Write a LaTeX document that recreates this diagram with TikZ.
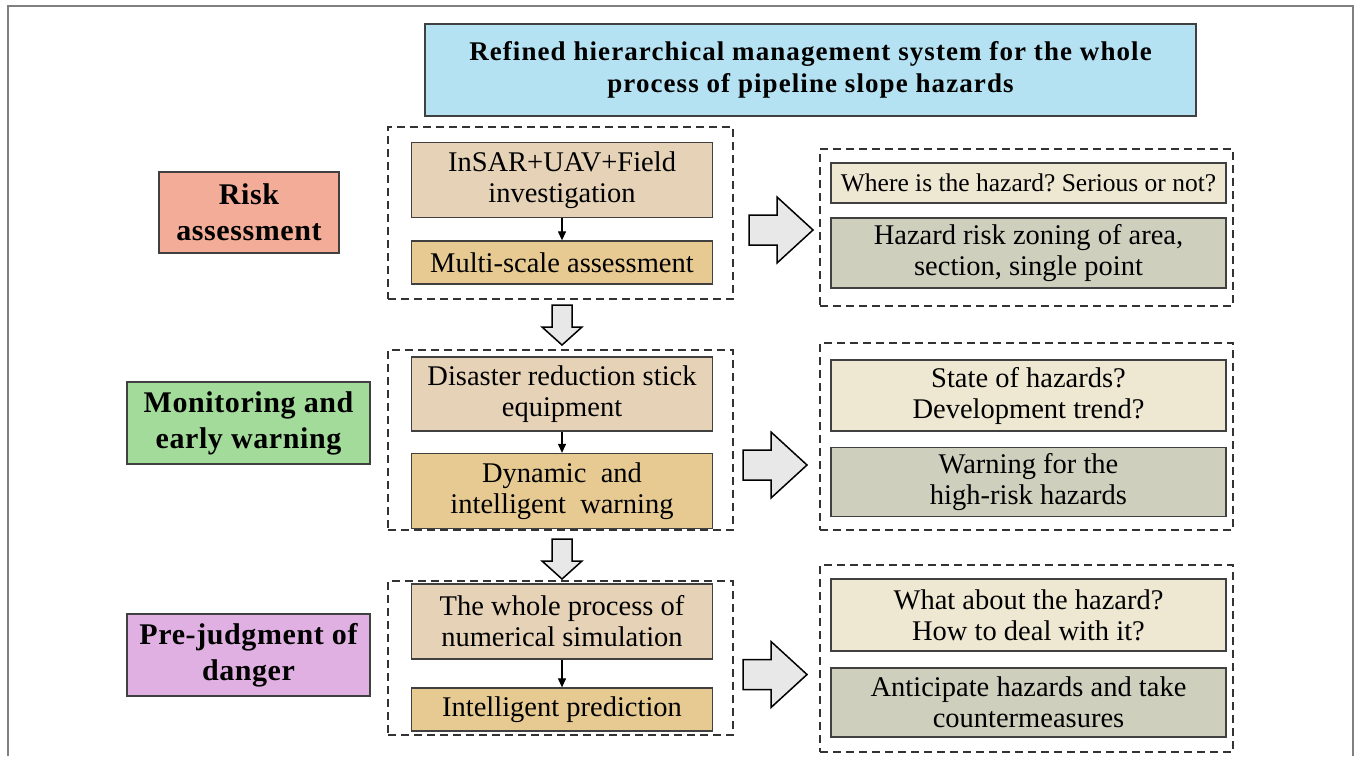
\documentclass[tikz,border=0pt]{standalone}
\usepackage{fontspec}
\setmainfont{Liberation Serif}
\newfontfamily\titlefont{Liberation Serif}[LetterSpace=4]
\newfontfamily\stagefont{Liberation Serif}[LetterSpace=2]
\usepackage{tikz}
\usetikzlibrary{positioning}
\usetikzlibrary{arrows.meta}
\frenchspacing
\definecolor{titleblue}{HTML}{B5E2F2}
\definecolor{riskred}{HTML}{F2AC97}
\definecolor{monigreen}{HTML}{A3DB9A}
\definecolor{judgeviolet}{HTML}{E1B0E2}
\definecolor{stepbeige}{HTML}{E6D3B7}
\definecolor{steptan}{HTML}{E6CA92}
\definecolor{askcream}{HTML}{EEE8D3}
\definecolor{resgray}{HTML}{CFCFBE}
\definecolor{edgegray}{HTML}{404040}
\definecolor{arrowfill}{HTML}{E8E8E8}
\tikzstyle{ttl} = [rectangle, draw=edgegray, line width=1.5pt, fill=titleblue, align=center, font=\titlefont\bfseries\fontsize{27}{32}\selectfont]
\tikzstyle{stage} = [rectangle, draw=edgegray, line width=1.5pt, align=center, minimum width=243pt, minimum height=82pt, font=\stagefont\bfseries\fontsize{30}{36}\selectfont]
\tikzstyle{grp} = [rectangle, draw=black!80, line width=1.6pt, dash pattern=on 8pt off 5pt]
\tikzstyle{mid} = [rectangle, draw=edgegray, line width=1.3pt, align=center, minimum width=301pt, inner sep=0pt, font=\fontsize{28.5}{31}\selectfont]
\tikzstyle{ans} = [rectangle, draw=edgegray, line width=1.3pt, align=center, minimum width=395pt, inner sep=0pt, font=\fontsize{28.5}{31}\selectfont]
\tikzstyle{link} = [line width=1.2pt, -{Triangle[length=9pt,width=8pt]}]
\tikzset{
  rblock/.pic={\draw[fill=arrowfill, line width=1.5pt] (0,-15) -- (28,-15) -- (28,-33) -- (64,0) -- (28,33) -- (28,15) -- (0,15) -- cycle;},
  dblock/.pic={\draw[fill=arrowfill, line width=1.5pt] (-10,0) -- (10,0) -- (10,22) -- (20,22) -- (0,40) -- (-20,22) -- (-10,22) -- cycle;}
}
\begin{document}
\begin{tikzpicture}[x=1pt,y=-1pt]
    \useasboundingbox (0,0) rectangle (1356,756);
    \draw[gray, line width=1.2pt] (8,756) -- (8,6) -- (1353,6) -- (1353,756);
    \node (title) [ttl, minimum width=771pt, minimum height=92pt] at (810.5,70) {Refined hierarchical management system for the whole\\process of pipeline slope hazards};
    \node (risk) [stage, fill=riskred, minimum width=180pt, minimum height=81pt] at (249,212.5) {Risk\\assessment};
    \node (monitor) [stage, fill=monigreen] at (248.5,423) {Monitoring and\\early warning};
    \node (judge) [stage, fill=judgeviolet] at (248.5,655) {Pre-judgment of\\danger};
    \node (grpA) [grp, minimum width=345pt, minimum height=172pt] at (560.5,213) {};
    \node (grpB) [grp, minimum width=345pt, minimum height=180pt] at (560.5,440) {};
    \node (grpC) [grp, minimum width=345pt, minimum height=154pt] at (560.5,658) {};
    \node (grpD) [grp, minimum width=413pt, minimum height=157pt] at (1026.5,227.5) {};
    \node (grpE) [grp, minimum width=413pt, minimum height=187pt] at (1026.5,436.5) {};
    \node (grpF) [grp, minimum width=413pt, minimum height=187pt] at (1026.5,658.5) {};
    \node (survey) [mid, fill=stepbeige, minimum height=75pt] at (562,180) {InSAR+UAV+Field\\investigation};
    \node (scale) [mid, fill=steptan, minimum height=43pt] at (562,262.5) {Multi-scale assessment};
    \node (stick) [mid, fill=stepbeige, minimum height=74pt] at (562,394) {Disaster reduction stick\\equipment};
    \node (warn) [mid, fill=steptan, minimum height=75pt] at (562,491) {Dynamic\ \ and\\intelligent\ \ warning};
    \node (simul) [mid, fill=stepbeige, minimum height=75pt] at (562,621.5) {The whole process of\\numerical simulation};
    \node (predict) [mid, fill=steptan, minimum height=43pt] at (562,709.5) {Intelligent prediction};
    \node (where) [ans, fill=askcream, minimum height=40pt, font=\fontsize{25.5}{30}\selectfont] at (1028.5,183) {Where is the hazard? Serious or not?};
    \node (zoning) [ans, fill=resgray, minimum height=70pt] at (1028.5,253) {Hazard risk zoning of area,\\section, single point};
    \node (state) [ans, fill=askcream, minimum height=71pt] at (1028.5,395.5) {State of hazards?\\Development trend?};
    \node (highrisk) [ans, fill=resgray, minimum height=69pt] at (1028.5,482) {Warning for the\\high-risk hazards};
    \node (what) [ans, fill=askcream, minimum height=72pt] at (1028.5,615) {What about the hazard?\\How to deal with it?};
    \node (counter) [ans, fill=resgray, minimum height=69pt] at (1028.5,702.5) {Anticipate hazards and take\\countermeasures};
    \draw[link] (survey) -- (scale);
    \draw[link] (stick) -- (warn);
    \draw[link] (simul) -- (predict);
    \pic at (562,305) {dblock};
    \pic at (562,539) {dblock};
    \pic at (749,230) {rblock};
    \pic at (743,465) {rblock};
    \pic at (743,674.5) {rblock};
\end{tikzpicture}
\end{document}
